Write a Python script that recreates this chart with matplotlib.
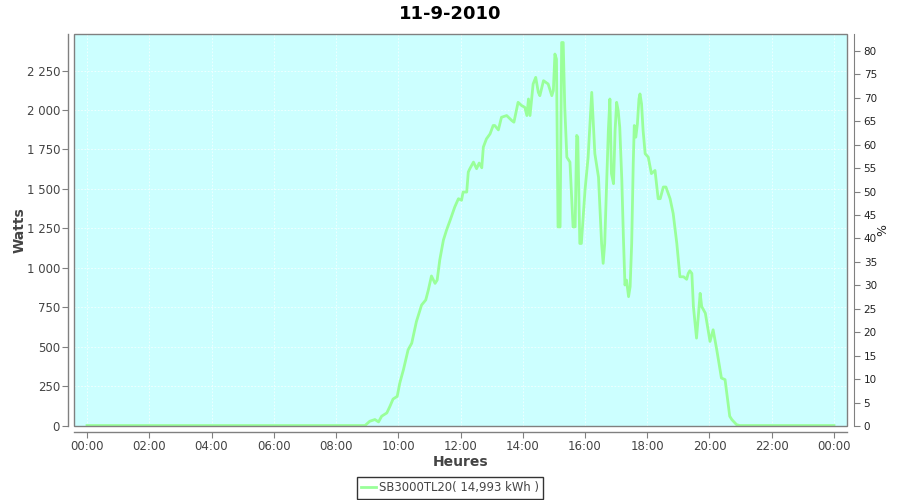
import matplotlib
matplotlib.use("Agg")
import matplotlib.pyplot as plt
from matplotlib.patches import Rectangle
from matplotlib.ticker import FuncFormatter, MultipleLocator
from matplotlib.lines import Line2D

title = "11-9-2010"
series_name = "SB3000TL20( 14,993 kWh )"
x_label = "Heures"
y_label = "Watts"
y2_label = "%"

times = ["00:00", "08:56", "09:05", "09:15", "09:22", "09:28", "09:38", "09:44", "09:50", "09:58",
         "10:03", "10:10", "10:19", "10:26", "10:35", "10:45", "10:53", "10:58", "11:04", "11:11",
         "11:15", "11:20", "11:27", "11:33", "11:40", "11:49", "11:56", "12:02", "12:05", "12:12",
         "12:15", "12:18", "12:25", "12:31", "12:36", "12:41", "12:44", "12:50", "12:57", "13:03",
         "13:06", "13:13", "13:19", "13:29", "13:39", "13:43", "13:51", "13:58", "14:04", "14:08",
         "14:11", "14:14", "14:20", "14:25", "14:30", "14:33", "14:40", "14:49", "14:56", "14:59",
         "15:02", "15:05", "15:08", "15:12", "15:15", "15:18", "15:21", "15:25", "15:31", "15:37",
         "15:41", "15:44", "15:46", "15:50", "15:53", "16:00", "16:06", "16:13", "16:19", "16:26",
         "16:29", "16:32", "16:35", "16:38", "16:45", "16:48", "16:51", "16:55", "16:58", "17:01",
         "17:04", "17:07", "17:11", "17:14", "17:17", "17:20", "17:24", "17:27", "17:30", "17:33",
         "17:35", "17:38", "17:41", "17:44", "17:46", "17:49", "17:52", "17:56", "18:02", "18:08",
         "18:15", "18:21", "18:25", "18:31", "18:36", "18:44", "18:50", "18:57", "19:03", "19:10",
         "19:16", "19:19", "19:22", "19:26", "19:29", "19:35", "19:42", "19:45", "19:52", "20:01",
         "20:07", "20:14", "20:23", "20:30", "20:39", "20:43", "20:52", "20:58", "24:00"]
watts = [0, 0, 27, 38, 23, 59, 80, 122, 168, 185,
         270, 354, 480, 522, 659, 764, 796, 859, 948, 901,
         922, 1049, 1175, 1238, 1301, 1386, 1438, 1428, 1480, 1480,
         1607, 1628, 1670, 1628, 1664, 1634, 1765, 1817, 1849, 1902,
         1902, 1874, 1954, 1965, 1933, 1923, 2049, 2028, 2017, 1965,
         2070, 1965, 2165, 2207, 2112, 2091, 2186, 2165, 2091, 2123,
         2355, 2323, 1259, 1259, 2428, 2428, 2017, 1701, 1670, 1259,
         1259, 1839, 1828, 1154, 1154, 1491, 1701, 2112, 1723, 1575,
         1365, 1154, 1028, 1154, 1870, 2070, 1597, 1533, 1870, 2049,
         1996, 1891, 1554, 1196, 891, 922, 817, 880, 1154, 1660,
         1902, 1828, 1912, 2070, 2102, 2039, 1870, 1723, 1701, 1597,
         1617, 1438, 1438, 1512, 1512, 1438, 1344, 1154, 943, 943,
         927, 964, 981, 964, 754, 554, 838, 754, 712, 533,
         607, 480, 301, 291, 59, 38, 6, 0, 0]

x_tick_labels = ["00:00", "02:00", "04:00", "06:00", "08:00", "10:00", "12:00",
                 "14:00", "16:00", "18:00", "20:00", "22:00", "00:00"]


def to_hours(t):
    h, m = t.split(":")
    return int(h) + int(m) / 60.0


hours = [to_hours(t) for t in times]

fig = plt.figure(figsize=(9, 5), dpi=100)
fig.patch.set_facecolor("white")
ax = fig.add_axes([74 / 900, 1 - 426 / 500, (847 - 74) / 900, (426 - 34) / 500])
ax.set_facecolor("#CCFFFF")

line_color = "#99FF99"
ax.plot(hours, watts, color=line_color, lw=2.0, zorder=3, solid_joinstyle="round")

ax.set_xlim(-0.418, 24.418)
ax.set_ylim(-3, 2482)

ax.set_xticks([2 * i for i in range(len(x_tick_labels))])
ax.set_xticklabels(x_tick_labels)
ax.yaxis.set_major_locator(MultipleLocator(250))
ax.yaxis.set_major_formatter(FuncFormatter(lambda v, p: f"{int(round(v)):,}".replace(",", " ")))

ax.grid(True, color="#F4FFFF", linestyle=(0, (2, 2)), linewidth=0.6, zorder=1)
ax.set_axisbelow(True)

grey = "#808080"
label_col = "#444444"
for s in ["top", "right"]:
    ax.spines[s].set_visible(False)
for s in ["left", "bottom"]:
    ax.spines[s].set_position(("outward", 4))
    ax.spines[s].set_color(grey)
    ax.spines[s].set_linewidth(1.0)

ax.tick_params(axis="both", direction="out", length=4, width=0.8, color=grey,
               labelcolor=label_col, labelsize=8.5, pad=2)

ax.add_patch(Rectangle((0, 0), 1, 1, transform=ax.transAxes, fill=False,
                       edgecolor=grey, linewidth=1.0, zorder=5, clip_on=False))

ax.set_xlabel(x_label, fontsize=10, color=label_col, fontweight="bold")
ax.set_ylabel(y_label, fontsize=10, color=label_col, fontweight="bold")
ax.xaxis.set_label_coords(0.5, (426 - 455) / 392)
ax.yaxis.set_label_coords((27 - 74) / 773, 0.5)

ax2 = ax.twinx()
ax2.set_ylim(0, 83.6)
ax2.yaxis.set_major_locator(MultipleLocator(5))
for s in ["top", "left", "bottom"]:
    ax2.spines[s].set_visible(False)
ax2.spines["right"].set_position(("outward", 5))
ax2.spines["right"].set_color(grey)
ax2.tick_params(axis="y", direction="out", length=4, width=0.8, color=grey,
                labelcolor="#222222", labelsize=7.5, pad=3)
ax2.set_ylabel(y2_label, fontsize=9, color="#222222")
ax2.yaxis.set_label_coords((876 - 74) / 773, 0.5)

fig.text(0.5, 1 - 14 / 500, title, ha="center", va="center", fontsize=13,
         fontweight="bold", color="black")

handle = Line2D([], [], color=line_color, lw=2.0)
leg = fig.legend([handle], [series_name], loc="center", bbox_to_anchor=(0.5, 1 - 488 / 500),
                 fontsize=8.4, frameon=True, fancybox=False, handlelength=1.3,
                 handletextpad=0.2, borderpad=0.35, borderaxespad=0)
leg.get_frame().set_edgecolor("black")
leg.get_frame().set_linewidth(1.0)
for t in leg.get_texts():
    t.set_color("#444444")

fig.savefig("out.png", dpi=100)
